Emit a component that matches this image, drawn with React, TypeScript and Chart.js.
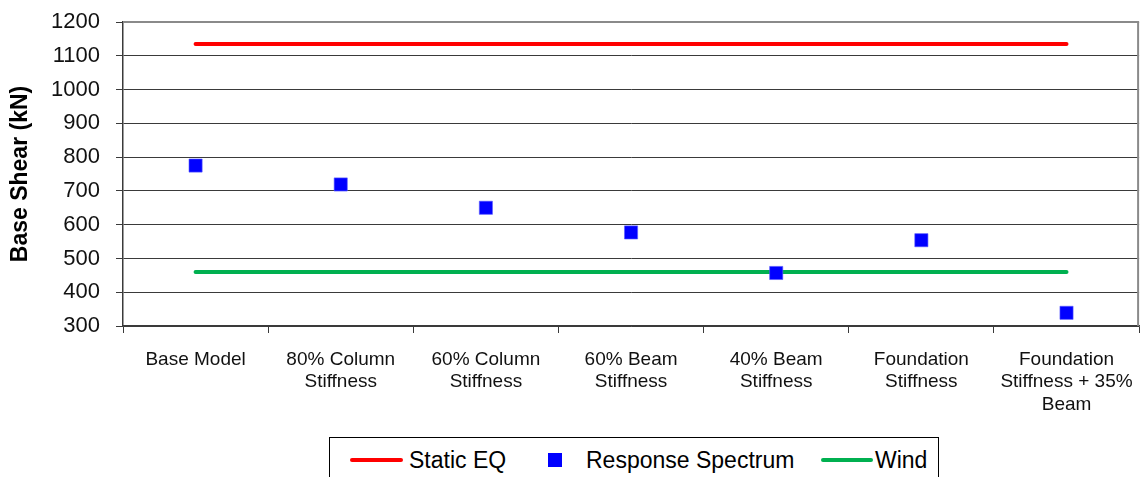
import React, { useEffect, useRef } from "react";
import { Chart, registerables } from "chart.js";

Chart.register(...registerables);

// Categories (multi-line labels) and series values
const categories: string[][] = [
  ["Base Model"],
  ["80% Column", "Stiffness"],
  ["60% Column", "Stiffness"],
  ["60% Beam", "Stiffness"],
  ["40% Beam", "Stiffness"],
  ["Foundation", "Stiffness"],
  ["Foundation", "Stiffness + 35%", "Beam"],
];

const staticEQ = [1135, 1135, 1135, 1135, 1135, 1135, 1135];
const responseSpectrum = [775, 719, 650, 577, 457, 554, 339];
const wind = [460, 460, 460, 460, 460, 460, 460];

const yMin = 300;
const yMax = 1200;
const yStep = 100;

const FONT = "'Liberation Sans', Arial, sans-serif";

const RED = "#ff0000";
const BLUE = "#0000ff";
const GREEN = "#00b050";

// Draws the grey frame on the top and right of the plot area
const framePlugin = {
  id: "plotFrame",
  afterDraw(chart: Chart) {
    const { ctx, chartArea } = chart;
    ctx.save();
    ctx.strokeStyle = "#8a8a8a";
    ctx.lineWidth = 2;
    ctx.beginPath();
    ctx.moveTo(chartArea.left, chartArea.top);
    ctx.lineTo(chartArea.right - 1, chartArea.top);
    ctx.lineTo(chartArea.right - 1, chartArea.bottom);
    ctx.stroke();
    ctx.restore();
  },
};

type LegendItem = {
  label: string;
  color: string;
  kind: "line" | "square";
  markLeft: number;
  markWidth: number;
  textLeft: number;
};

const legendItems: LegendItem[] = [
  { label: "Static EQ", color: RED, kind: "line", markLeft: 350, markWidth: 53, textLeft: 409 },
  { label: "Response Spectrum", color: BLUE, kind: "square", markLeft: 548, markWidth: 14, textLeft: 586 },
  { label: "Wind", color: GREEN, kind: "line", markLeft: 821, markWidth: 52, textLeft: 875 },
];

const CANVAS_W = 1149;
const CANVAS_H = 477;

export default function App() {
  const canvasRef = useRef<HTMLCanvasElement | null>(null);

  useEffect(() => {
    const canvas = canvasRef.current;
    if (!canvas) return;
    const chart = new Chart(canvas, {
      type: "line",
      data: {
        labels: categories,
        datasets: [
          {
            label: "Static EQ",
            data: staticEQ,
            borderColor: RED,
            backgroundColor: RED,
            borderWidth: 4,
            borderCapStyle: "round",
            pointRadius: 0,
            fill: false,
          },
          {
            label: "Response Spectrum",
            data: responseSpectrum,
            showLine: false,
            pointStyle: "rect",
            pointRadius: 9.3,
            pointBackgroundColor: BLUE,
            pointBorderColor: "#5a5aff",
            pointBorderWidth: 0.6,
            borderColor: BLUE,
            backgroundColor: BLUE,
          },
          {
            label: "Wind",
            data: wind,
            borderColor: GREEN,
            backgroundColor: GREEN,
            borderWidth: 4,
            borderCapStyle: "round",
            pointRadius: 0,
            fill: false,
          },
        ],
      },
      options: {
        animation: false,
        responsive: false,
        maintainAspectRatio: false,
        layout: { padding: { left: 0, top: 22, right: 4, bottom: 0 } },
        plugins: {
          legend: { display: false },
          tooltip: { enabled: false },
        },
        scales: {
          x: {
            type: "category",
            offset: true,
            grid: {
              offset: true,
              drawOnChartArea: false,
              drawTicks: true,
              tickLength: 7,
              color: "#3a3a3a",
            },
            border: { color: "#3a3a3a", width: 1.5 },
            ticks: {
              color: "#111",
              padding: 15,
              maxRotation: 0,
              autoSkip: false,
              font: { family: FONT, size: 19, lineHeight: 1.2 },
            },
            afterFit(scale: any) {
              scale.height = 151;
              scale.paddingLeft = 0;
              scale.paddingRight = 0;
            },
          },
          y: {
            min: yMin,
            max: yMax,
            grid: {
              color: "#3a3a3a",
              lineWidth: 1,
              tickLength: 7,
            },
            border: { color: "#3a3a3a", width: 1.5 },
            ticks: {
              stepSize: yStep,
              color: "#111",
              padding: 16,
              font: { family: FONT, size: 22 },
              callback: (value: any) => String(value),
            },
            title: {
              display: true,
              text: "Base Shear (kN)",
              color: "#000",
              padding: { top: 7, bottom: 0 },
              font: { family: FONT, size: 23, weight: "bold", lineHeight: 1.2 },
            },
            afterFit(scale: any) {
              scale.width = 123;
              scale.paddingTop = 0;
              scale.paddingBottom = 0;
            },
          },
        },
      },
      plugins: [framePlugin],
    });
    return () => chart.destroy();
  }, []);

  return (
    <div
      style={{
        position: "fixed",
        left: 0,
        top: 0,
        width: 1143,
        height: 477,
        overflow: "hidden",
        background: "#fff",
      }}
    >
      <canvas
        ref={canvasRef}
        width={CANVAS_W}
        height={CANVAS_H}
        style={{ position: "absolute", left: 0, top: 0, width: CANVAS_W, height: CANVAS_H }}
      />
      <div
        style={{
          position: "absolute",
          left: 329,
          top: 437,
          width: 610,
          height: 60,
          border: "1px solid #000",
          boxSizing: "border-box",
          background: "#fff",
        }}
      />
      {legendItems.map((item) => (
        <React.Fragment key={item.label}>
          <div
            style={{
              position: "absolute",
              left: item.markLeft,
              top: item.kind === "line" ? 458 : 453,
              width: item.markWidth,
              height: item.kind === "line" ? 4 : 14,
              borderRadius: item.kind === "line" ? 2 : 0,
              background: item.color,
            }}
          />
          <div
            style={{
              position: "absolute",
              left: item.textLeft,
              top: 446,
              height: 28,
              lineHeight: "28px",
              fontFamily: FONT,
              fontSize: 23,
              color: "#000",
              whiteSpace: "nowrap",
            }}
          >
            {item.label}
          </div>
        </React.Fragment>
      ))}
    </div>
  );
}
